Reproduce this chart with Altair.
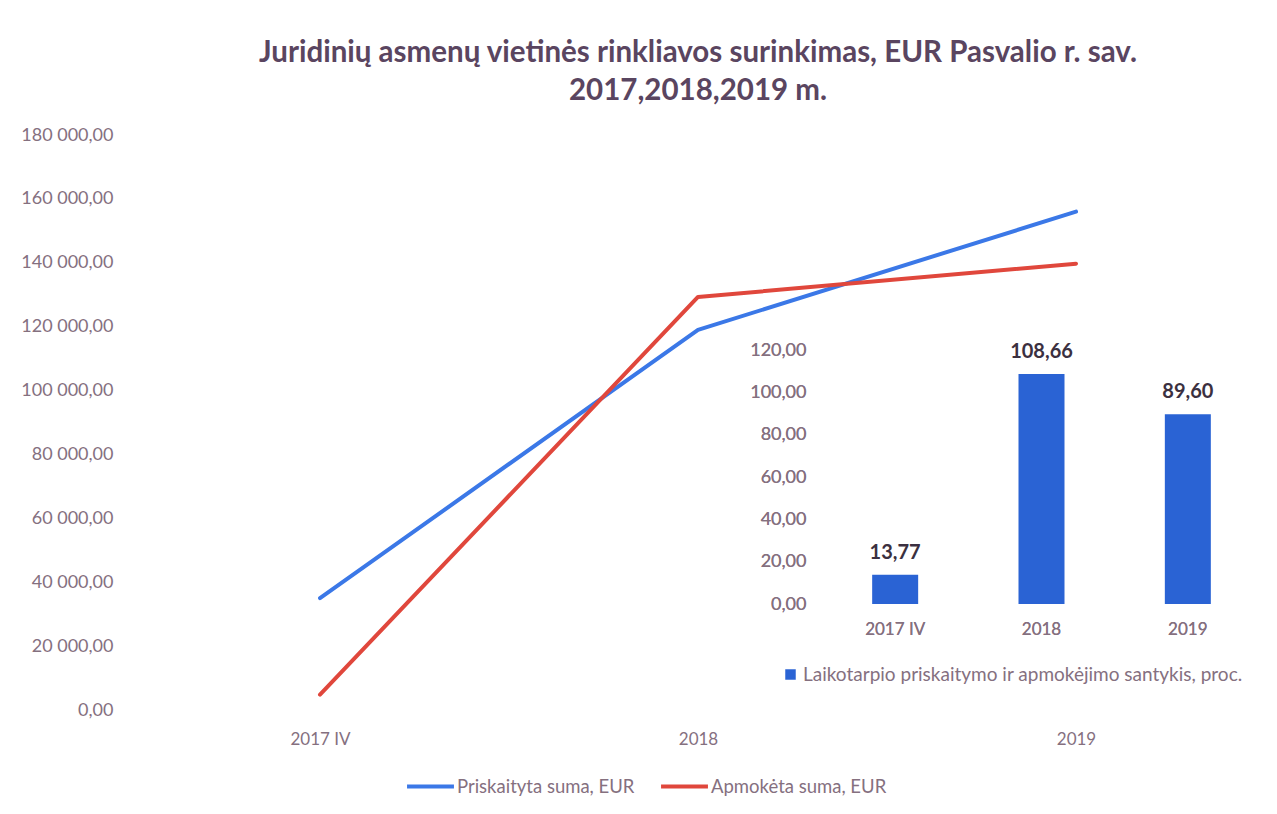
import altair as alt
import pandas as pd

categories = ["2017 IV", "2018", "2019"]
priskaityta = [35000, 119000, 156000]
apmoketa = [4800, 129300, 139700]
santykis = [13.77, 108.66, 89.60]

series_names = ["Priskaityta suma, EUR", "Apmokėta suma, EUR"]

lines_df = pd.DataFrame(
    [{"cat": c, "series": series_names[0], "value": v} for c, v in zip(categories, priskaityta)]
    + [{"cat": c, "series": series_names[1], "value": v} for c, v in zip(categories, apmoketa)]
)
bars_df = pd.DataFrame({
    "cat": categories,
    "pct": santykis,
    "label": [f"{v:.2f}".replace(".", ",") for v in santykis],
    "legend": ["Laikotarpio priskaitymo ir apmokėjimo santykis, proc."] * 3,
})

FONT = "Lato"
LABEL_COLOR = "#85707f"
W, H = 1134, 575

lines = alt.Chart(lines_df).mark_line(strokeWidth=4, strokeCap="round", strokeJoin="round").encode(
    x=alt.X("cat:N", sort=categories, title=None,
            scale=alt.Scale(type="point", padding=0.5),
            axis=alt.Axis(labelAngle=0, domain=False, ticks=False, labelPadding=21,
                          labelFontSize=17, labelColor=LABEL_COLOR, labelFont=FONT)),
    y=alt.Y("value:Q", title=None,
            scale=alt.Scale(domain=[0, 180000]),
            axis=alt.Axis(values=list(range(0, 180001, 20000)), domain=False, ticks=False,
                          grid=False, labelPadding=18, labelFontSize=18, labelColor=LABEL_COLOR,
                          labelFont=FONT,
                          labelExpr="replace(replace(format(datum.value, ',.2f'), ',', ' '), '.', ',')")),
    stroke=alt.Stroke("series:N", sort=series_names,
                      scale=alt.Scale(domain=series_names, range=["#3b78e7", "#e0473c"]),
                      legend=alt.Legend(title=None, orient="none", legendX=274, legendY=626,
                                        direction="horizontal", symbolType="stroke",
                                        symbolSize=2200, symbolStrokeWidth=4, labelOffset=1,
                                        columnPadding=18, labelFontSize=18.5, labelColor=LABEL_COLOR,
                                        labelFont=FONT, labelLimit=400)),
    order=alt.Order("cat_idx:Q"),
).transform_calculate(
    cat_idx="indexof(['2017 IV','2018','2019'], datum.cat)"
)

bx = alt.X("cat:N", sort=categories, title=None,
           scale=alt.Scale(type="band", range=[691, 1130], paddingInner=0.686, paddingOuter=0.343),
           axis=alt.Axis(orient="bottom", offset=-106, labelAngle=0, domain=False, ticks=False,
                         labelPadding=17, labelFontSize=17, labelColor=LABEL_COLOR, labelFont=FONT))
by = alt.Y("pct:Q", title=None,
           scale=alt.Scale(domain=[0, 120], range=[469, 215]),
           axis=alt.Axis(orient="left", offset=-683, values=list(range(0, 121, 20)), domain=False,
                         ticks=False, grid=False, labelPadding=8, labelFontSize=18,
                         labelColor=LABEL_COLOR, labelFont=FONT,
                         labelExpr="replace(format(datum.value, '.2f'), '.', ',')"))

bars = alt.Chart(bars_df).mark_bar(size=46).encode(
    x=bx, y=by,
    fill=alt.Fill("legend:N",
                  scale=alt.Scale(range=["#2a63d4"]),
                  legend=alt.Legend(title=None, orient="none", legendX=650, legendY=530,
                                    symbolType="square", symbolSize=110, labelFontSize=19,
                                    labelColor=LABEL_COLOR, labelFont=FONT, labelOffset=3,
                                    labelLimit=600)),
)
bar_text = alt.Chart(bars_df).mark_text(
    baseline="bottom", dy=-12, fontSize=20, fontWeight="bold", color="#3b3040", font=FONT
).encode(x=bx, y=by, text="label:N")

chart = alt.layer(lines, bars, bar_text).resolve_scale(
    x="independent", y="independent"
).properties(
    width=W, height=H,
    autosize=alt.AutoSizeParams(type="none"),
    padding={"left": 123, "top": 127, "right": 4, "bottom": 90},
    title=alt.Title(
        ["Juridinių asmenų vietinės rinkliavos surinkimas, EUR Pasvalio r. sav.",
         "2017,2018,2019 m."],
        fontSize=29.5, font=FONT, fontWeight="bold", color="#5a4560",
        anchor="middle", lineHeight=38, offset=20,
    ),
).configure(background="white").configure_view(strokeWidth=0)

chart.save("out.html", embed_options={"renderer": "svg", "actions": False})
